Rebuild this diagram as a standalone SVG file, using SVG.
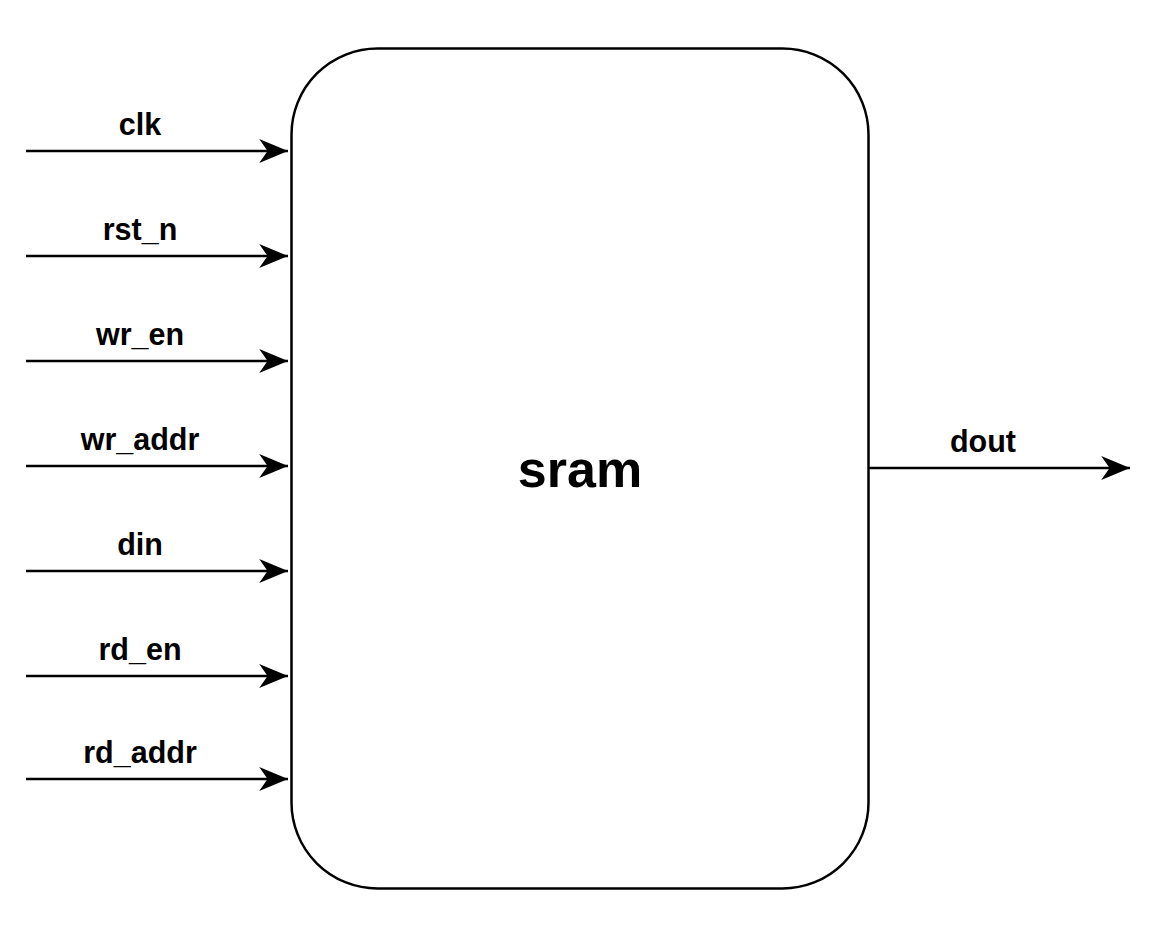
<svg xmlns="http://www.w3.org/2000/svg" width="1176" height="947" viewBox="0 0 1176 947">
<style>
.lbl{font-family:"Liberation Sans",Arial,sans-serif;font-weight:bold;font-size:30.5px;fill:#000;text-anchor:middle}
.title{font-family:"Liberation Sans",Arial,sans-serif;font-weight:bold;font-size:52px;fill:#000;text-anchor:middle}
.wire{stroke:#000;stroke-width:2.5;fill:none}
</style>
<defs>
<marker id="arr" markerUnits="userSpaceOnUse" markerWidth="30" markerHeight="24" refX="24" refY="10" orient="auto" viewBox="0 0 24 20">
<path d="M0,0 L24,10 L0,20 L7,10 Z" fill="#000"/>
</marker>
</defs>
<rect width="1176" height="947" fill="#fff"/>
<g id="sram">
<rect x="291.5" y="48.5" width="577" height="840" rx="86" ry="86" fill="#fff" stroke="#000" stroke-width="2.5"/>
<text class="title" x="580" y="487">sram</text>
</g>
<g id="connectors">
<line class="wire" x1="26" y1="151" x2="288" y2="151" marker-end="url(#arr)"/>
<line class="wire" x1="26" y1="256" x2="288" y2="256" marker-end="url(#arr)"/>
<line class="wire" x1="26" y1="361" x2="288" y2="361" marker-end="url(#arr)"/>
<line class="wire" x1="26" y1="466" x2="288" y2="466" marker-end="url(#arr)"/>
<line class="wire" x1="26" y1="571" x2="288" y2="571" marker-end="url(#arr)"/>
<line class="wire" x1="26" y1="676" x2="288" y2="676" marker-end="url(#arr)"/>
<line class="wire" x1="26" y1="779" x2="288" y2="779" marker-end="url(#arr)"/>
<line class="wire" x1="868" y1="468" x2="1130" y2="468" marker-end="url(#arr)"/>
</g>
<g id="labels">
<text class="lbl" x="140" y="135">clk</text>
<text class="lbl" x="140" y="240">rst_n</text>
<text class="lbl" x="140" y="345">wr_en</text>
<text class="lbl" x="140" y="450">wr_addr</text>
<text class="lbl" x="140" y="555">din</text>
<text class="lbl" x="140" y="660">rd_en</text>
<text class="lbl" x="140" y="763">rd_addr</text>
<text class="lbl" x="983" y="452">dout</text>
</g>
</svg>
